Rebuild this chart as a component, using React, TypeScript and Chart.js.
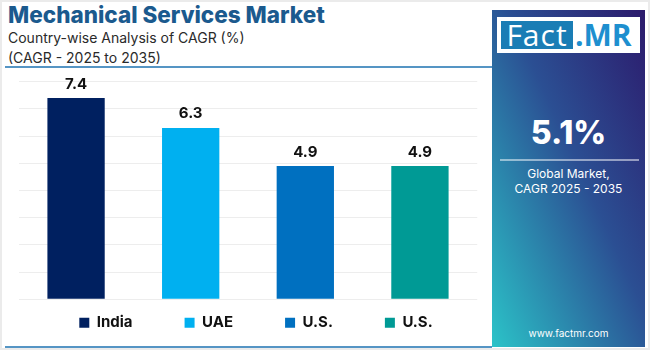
import { useEffect, useRef } from 'react';
import { Chart, registerables } from 'chart.js';

Chart.register(...registerables);

const categories = ['India', 'UAE', 'U.S.', 'U.S.'];
const values = [7.4, 6.3, 4.9, 4.9];
const barColors = ['#002060', '#00B0F0', '#0070C0', '#009A95'];
const yMin = 0;
const yMax = 8;
const yStep = 1;
const globalCagr = '5.1%';

const FONT = 'Inter, "Open Sans", sans-serif';

export default function App() {
  const ref = useRef<HTMLCanvasElement>(null);

  useEffect(() => {
    if (!ref.current) return;

    const valueLabels = {
      id: 'valueLabels',
      afterDatasetsDraw(chart: any) {
        const ctx = chart.ctx;
        ctx.save();
        ctx.font = `bold 15px ${FONT}`;
        ctx.fillStyle = '#111111';
        ctx.textAlign = 'center';
        ctx.textBaseline = 'middle';
        chart.data.datasets.forEach((ds: any, i: number) => {
          const meta = chart.getDatasetMeta(i);
          meta.data.forEach((el: any, j: number) => {
            const v = ds.data[j];
            if (v == null) return;
            ctx.fillText(Number(v).toFixed(1), el.x, el.y - 14);
          });
        });
        ctx.restore();
      },
    };

    const legendPlace = {
      id: 'legendPlace',
      afterLayout(chart: any) {
        const lg = chart.legend;
        if (!lg) return;
        const pad = lg.options.labels.padding;
        const itemH = 15;
        const top = chart.chartArea.bottom + 23.4 - pad - itemH / 2;
        lg.top = top;
        lg.bottom = top + pad + itemH + 6;
        lg.height = lg.bottom - lg.top;
        lg.left += 8;
        lg.right += 8;
      },
    };

    const chart = new Chart(ref.current, {
      type: 'bar',
      data: {
        labels: categories,
        datasets: categories.map((c, i) => ({
          label: c,
          data: values.map((v, j) => (j === i ? v : null)),
          backgroundColor: barColors[i],
          borderWidth: 0,
          barPercentage: 0.5,
          categoryPercentage: 1,
          grouped: false,
        })),
      },
      options: {
        responsive: false,
        animation: false,
        layout: { padding: { left: 18.75, right: 12.75, top: 11.7, bottom: 10.7 } },
        scales: {
          x: { display: false },
          y: {
            min: yMin,
            max: yMax,
            ticks: { display: false, stepSize: yStep },
            border: { display: false },
            grid: { color: 'rgba(0,0,0,0.07)', drawTicks: false },
          },
        },
        plugins: {
          legend: {
            position: 'bottom',
            maxHeight: 30,
            labels: {
              boxWidth: 10,
              boxHeight: 10,
              padding: 52,
              color: '#111111',
              font: { family: FONT, size: 15, weight: 'bold' },
            },
          },
          tooltip: { enabled: false },
        },
      },
      plugins: [valueLabels, legendPlace],
    } as any);

    return () => chart.destroy();
  }, []);

  return (
    <div
      style={{
        position: 'fixed',
        left: 0,
        top: 0,
        width: 650,
        height: 350,
        background: '#ebebeb',
        overflow: 'hidden',
        fontFamily: FONT,
      }}
    >
      <div style={{ position: 'absolute', left: 2, top: 2, width: 646, height: 346, background: '#ffffff' }} />
      <div
        style={{
          position: 'absolute',
          left: 8,
          top: 2,
          fontSize: 22.5,
          fontWeight: 800,
          color: '#1B5A8E',
          whiteSpace: 'nowrap',
          lineHeight: '26px',
        }}
      >
        Mechanical Services Market
      </div>
      <div style={{ position: 'absolute', left: 8, top: 28, fontSize: 14, color: '#2a2a2a', lineHeight: '20px', whiteSpace: 'nowrap' }}>
        Country-wise Analysis of CAGR (%)
      </div>
      <div style={{ position: 'absolute', left: 8, top: 48, fontSize: 14, color: '#2a2a2a', lineHeight: '20px', whiteSpace: 'nowrap' }}>
        (CAGR - 2025 to 2035)
      </div>
      <div style={{ position: 'absolute', left: 5, top: 66, width: 487, height: 2, background: '#5595C4' }} />
      <div style={{ position: 'absolute', left: 5, top: 346, width: 487, height: 2, background: '#5595C4' }} />

      <canvas ref={ref} width={490} height={270} style={{ position: 'absolute', left: 0, top: 70, width: 490, height: 270 }} />

      <div
        style={{
          position: 'absolute',
          left: 492,
          top: 10,
          width: 153,
          height: 337,
          background: 'linear-gradient(to bottom left, #2c1a6c 0%, #2b4f93 45%, #2bc3c8 100%)',
        }}
      >
        <div style={{ position: 'absolute', left: 5, top: 7, width: 143, height: 36, background: '#ffffff' }}>
          <div
            style={{
              position: 'absolute',
              left: 4,
              top: 4,
              width: 72,
              height: 28,
              background: '#1A7DB5',
              color: '#ffffff',
              fontSize: 30,
              lineHeight: '28px',
              fontFamily: '"Open Sans", sans-serif',
              textAlign: 'center',
              letterSpacing: 1,
            }}
          >
            Fact
          </div>
          <div
            style={{
              position: 'absolute',
              left: 78,
              top: 4,
              width: 64,
              height: 28,
              color: '#1E8FCF',
              fontSize: 30,
              fontWeight: 700,
              lineHeight: '28px',
              fontFamily: '"Open Sans", sans-serif',
            }}
          >
            .MR
          </div>
        </div>
        <div
          style={{
            position: 'absolute',
            left: 0,
            width: 153,
            top: 104,
            textAlign: 'center',
            color: '#ffffff',
            fontSize: 32,
            fontWeight: 800,
            lineHeight: '38px',
          }}
        >
          {globalCagr}
        </div>
        <div style={{ position: 'absolute', left: 8, top: 149, width: 139, height: 2, background: 'rgba(255,255,255,0.5)' }} />
        <div
          style={{
            position: 'absolute',
            left: 0,
            width: 153,
            top: 156,
            textAlign: 'center',
            color: '#ffffff',
            fontSize: 12,
            lineHeight: '15px',
          }}
        >
          Global Market,
          <br />
          CAGR 2025 - 2035
        </div>
        <div
          style={{
            position: 'absolute',
            left: 0,
            width: 153,
            top: 316,
            textAlign: 'center',
            color: '#ffffff',
            fontSize: 10,
            lineHeight: '14px',
          }}
        >
          www.factmr.com
        </div>
      </div>
    </div>
  );
}
